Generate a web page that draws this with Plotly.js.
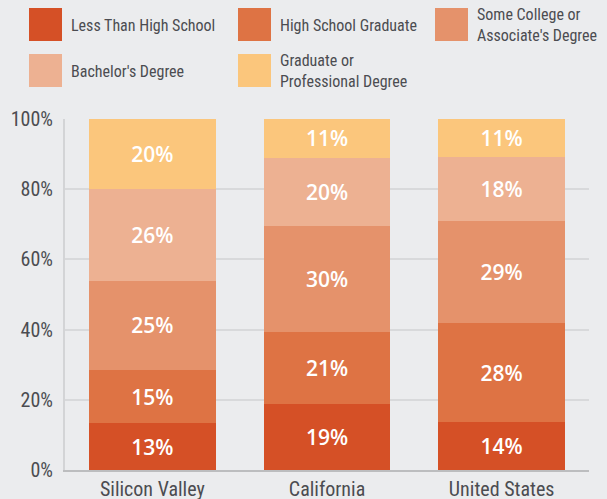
<!DOCTYPE html>
<html>
<head>
<meta charset="utf-8">
<script src="https://cdn.plot.ly/plotly-3.0.1.min.js"></script>
<style>
  html, body { margin: 0; padding: 0; background: #ebecee; }
  #chart { width: 607px; height: 499px; }
</style>
</head>
<body>
<div id="chart"></div>
<script>
// ---- Data ----
const regions = ["Silicon Valley", "California", "United States"];
const seriesNames = [
  "Less Than High School",
  "High School Graduate",
  "Some College or<br>Associate's Degree",
  "Bachelor's Degree",
  "Graduate or<br>Professional Degree"
];
const lessThanHS   = [13.3, 18.7, 13.6];
const hsGraduate   = [15.2, 20.5, 28.2];
const someCollege  = [25.4, 30.2, 29.0];
const bachelors    = [26.2, 19.6, 18.4];
const graduateProf = [19.9, 11.0, 10.8];
const yTickVals = [0, 20, 40, 60, 80, 100];
const yTickText = ["0%", "20%", "40%", "60%", "80%", "100%"];

// ---- Styles ----
const colors = ["#d55026", "#de7344", "#e5926b", "#edb192", "#fbc67c"];
const seriesValues = [lessThanHS, hsGraduate, someCollege, bachelors, graduateProf];
const textColor = "#4b4c51";
const labelFont = "'Roboto Condensed', 'Liberation Sans Narrow', sans-serif";

const traces = seriesValues.map((vals, i) => ({
  type: "bar",
  name: seriesNames[i].replace("<br>", " "),
  x: regions,
  y: vals,
  marker: { color: colors[i], line: { width: 0 } },
  text: vals.map(v => Math.round(v) + "%"),
  textposition: "inside",
  insidetextanchor: "middle",
  textangle: 0,
  constraintext: "none",
  textfont: { family: "'Open Sans', sans-serif", size: 21, color: "#ffffff", weight: 600 },
  hoverinfo: "skip",
  showlegend: false
}));

// ---- Custom legend (pixel geometry converted to paper coords) ----
const W = 607, H = 499;
const M = { l: 65, r: 18, t: 119, b: 29 };
const pw = W - M.l - M.r, ph = H - M.t - M.b;
const px2x = px => (px - M.l) / pw;
const py2y = py => (H - M.b - py) / ph;
const legColX = [29, 238, 435];
const legRowY = [8, 54];
const sw = 33;

const shapes = [];
const annotations = [];
seriesNames.forEach((nm, i) => {
  const cx = legColX[i % 3], cy = legRowY[Math.floor(i / 3)];
  shapes.push({
    type: "rect", xref: "paper", yref: "paper",
    x0: px2x(cx), x1: px2x(cx + sw), y0: py2y(cy), y1: py2y(cy + sw),
    fillcolor: colors[i], line: { width: 0 }, layer: "above"
  });
  annotations.push({
    xref: "paper", yref: "paper",
    x: px2x(cx + sw + 7), y: py2y(cy + sw / 2 + 1),
    xanchor: "left", yanchor: "middle", align: "left",
    text: nm, showarrow: false,
    font: { family: labelFont, size: 16, color: textColor }
  });
});

const layout = {
  width: W, height: H,
  margin: M,
  paper_bgcolor: "#ebecee",
  plot_bgcolor: "#ebecee",
  barmode: "stack",
  bargap: 0.273,
  showlegend: false,
  xaxis: {
    range: [-0.5, 2.5],
    showgrid: false,
    showline: true,
    linecolor: "#bcbdbf",
    linewidth: 2,
    ticks: "",
    tickfont: { family: labelFont, size: 20, color: textColor },
    fixedrange: true
  },
  yaxis: {
    range: [0, 100],
    tickvals: yTickVals,
    ticktext: yTickText,
    showgrid: true,
    gridcolor: "#d8d9db",
    gridwidth: 2,
    zeroline: false,
    showline: true,
    linecolor: "#d3d4d6",
    linewidth: 2,
    ticks: "",
    ticklabelstandoff: 6,
    tickfont: { family: labelFont, size: 20, color: textColor },
    fixedrange: true
  },
  shapes: shapes,
  annotations: annotations
};

Plotly.newPlot("chart", traces, layout, { displayModeBar: false, staticPlot: true });
</script>
</body>
</html>
